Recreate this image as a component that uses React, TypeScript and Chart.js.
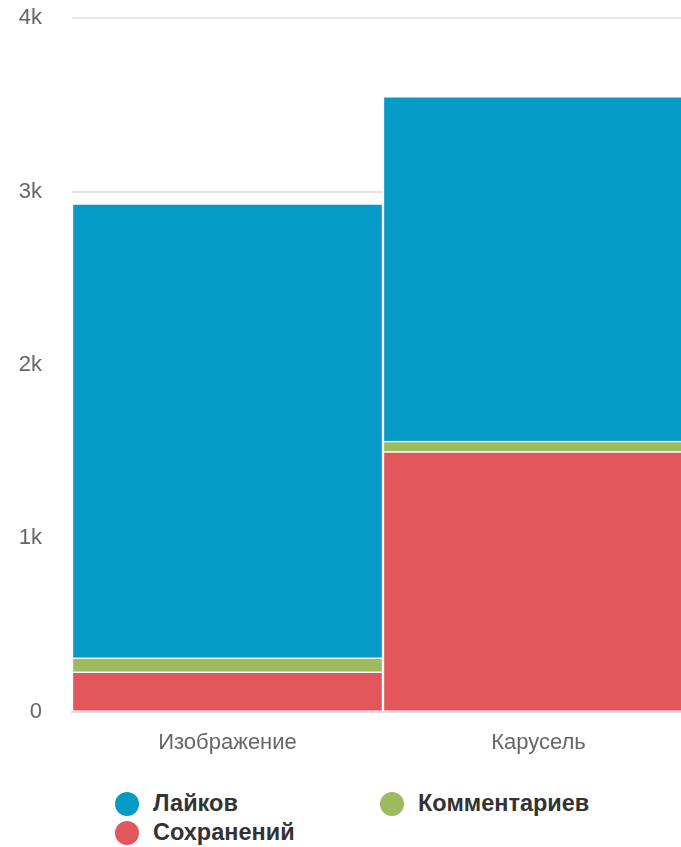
import React, { useEffect, useRef } from "react";
import { Chart, registerables } from "chart.js";

Chart.register(...registerables);

const categories = ["Изображение", "Карусель"];
const likes = [2620, 1990];
const comments = [80, 60];
const saves = [230, 1500];
const seriesNames = ["Лайков", "Комментариев", "Сохранений"];
const seriesColors = ["#069bc6", "#9bbb5e", "#e2565c"];
const yTicks = [0, 1000, 2000, 3000, 4000];

export default function App() {
  const ref = useRef<HTMLCanvasElement | null>(null);

  useEffect(() => {
    document.body.style.margin = "0";
    const ctx = ref.current!;
    const chart = new Chart(ctx, {
      type: "bar",
      data: {
        labels: categories,
        datasets: [
          { label: seriesNames[2], data: saves, backgroundColor: seriesColors[2] },
          { label: seriesNames[1], data: comments, backgroundColor: seriesColors[1] },
          { label: seriesNames[0], data: likes, backgroundColor: seriesColors[0] },
        ].map((d) => ({
          ...d,
          borderColor: "#ffffff",
          borderWidth: 1.5,
          barPercentage: 1,
          categoryPercentage: 1,
        })),
      },
      options: {
        animation: false,
        responsive: false,
        maintainAspectRatio: false,
        layout: { padding: { top: 0, right: 0, left: 0, bottom: 0 } },
        plugins: { legend: { display: false }, tooltip: { enabled: false } },
        scales: {
          x: {
            stacked: true,
            grid: { display: false, drawTicks: false },
            border: { display: true, color: "#d8dfeb", width: 2 },
            ticks: {
              color: "#666666",
              padding: 18,
              font: { family: "'Liberation Sans', Arial, sans-serif", size: 22 },
            },
          },
          y: {
            stacked: true,
            min: 0,
            max: 4000,
            afterFit: (s: any) => {
              s.width = 72;
            },
            afterBuildTicks: (s: any) => {
              s.ticks = yTicks.map((v) => ({ value: v }));
            },
            grid: {
              color: "#e6e6e6",
              lineWidth: 2,
              drawTicks: false,
            },
            border: { display: false },
            ticks: {
              color: "#666666",
              padding: 30,
              font: { family: "'Liberation Sans', Arial, sans-serif", size: 22 },
              callback: (v: any) => (Number(v) === 0 ? "0" : Number(v) / 1000 + "k"),
            },
          },
        },
      },
    });
    return () => chart.destroy();
  }, []);

  const legendItems = [0, 1, 2];

  return (
    <div style={{ position: "relative", width: 681, height: 847, overflow: "hidden" }}>
      <canvas
        ref={ref}
        width={694}
        height={799}
        style={{ display: "block", position: "absolute", left: 0, top: -25 }}
      />
      <div
        style={{
          position: "absolute",
          left: 115,
          top: 789,
          display: "grid",
          gridTemplateColumns: "265px 300px",
          rowGap: 0,
          fontFamily: "'Liberation Sans', Arial, sans-serif",
          fontWeight: "bold",
          fontSize: 23.5,
          color: "#333333",
        }}
      >
        {legendItems.map((i) => (
          <div key={i} style={{ display: "flex", alignItems: "center", height: 29 }}>
            <span
              style={{
                display: "inline-block",
                width: 24,
                height: 24,
                borderRadius: "50%",
                background: seriesColors[i],
                marginRight: 14,
              }}
            />
            <span>{seriesNames[i]}</span>
          </div>
        ))}
      </div>
    </div>
  );
}
